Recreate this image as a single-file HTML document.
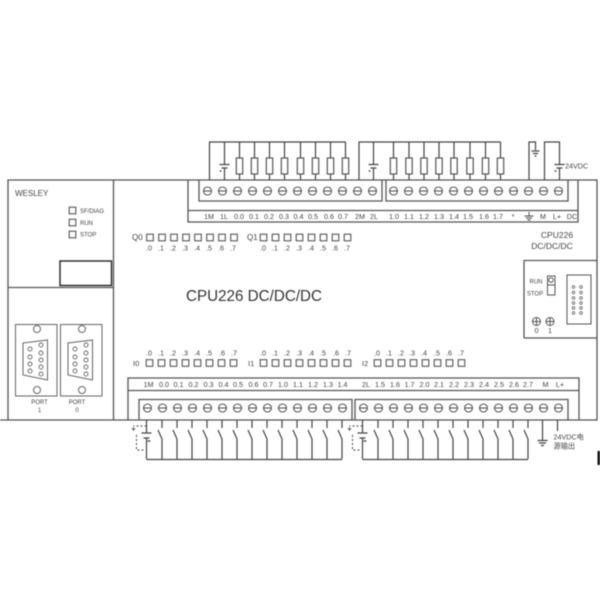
<!DOCTYPE html>
<html>
<head>
<meta charset="utf-8">
<style>
html,body{margin:0;padding:0;background:#fff;width:600px;height:600px;overflow:hidden}
svg{display:block;filter:blur(0.5px)}
text{font-family:"Liberation Sans","Noto Sans CJK SC",sans-serif;fill:#444;font-size:7.2px;text-anchor:middle}
.l{text-anchor:start}
.s{font-size:6px}
</style>
</head>
<body>
<svg width="600" height="600" viewBox="0 0 600 600" xmlns="http://www.w3.org/2000/svg">
<defs>
<g id="t"><circle r="4" fill="none" stroke="#555" stroke-width="1.100"/><path d="M-4 0H4" stroke="#555" stroke-width="1.100"/></g>
<rect id="led" x="-0.300" y="-0.300" width="6.600" height="6.600" fill="none" stroke="#555" stroke-width="1.100"/>
<g id="r"><path d="M0 142V158M0 174V180" stroke="#444" stroke-width="1.200"/><rect x="-3.200" y="158" width="6.400" height="16" fill="none" stroke="#555" stroke-width="1.200"/></g>
<g id="b"><path d="M0 142V164M0 168V180M-5 164.500H5M-3 168H3" stroke="#444" stroke-width="1.200" fill="none"/><path d="M-5 171h2" stroke="#444" stroke-width="1.200"/></g>
<g id="sw"><path d="M0 420V428M-4 430L0 439V459" stroke="#444" stroke-width="1.200" fill="none"/></g>
<g id="bb"><path d="M0 420V433M0 438V459M-5 433H5M-3 438H3M1 441H4" stroke="#444" stroke-width="1.200" fill="none"/><path d="M0 426H-13M-10 435V450H-1" stroke="#444" stroke-width="1" fill="none" stroke-dasharray="2 2"/><path d="M-15 429h4M-13 427v4" stroke="#444" stroke-width="0.8"/></g>
<g id="db"><path d="M23 343L47.500 340V380L23 375Z" fill="none" stroke="#666" stroke-width="1"/>
<g fill="none" stroke="#666" stroke-width="0.900"><circle cx="30" cy="349" r="2"/><circle cx="30" cy="357" r="2"/><circle cx="30" cy="364" r="2"/><circle cx="30" cy="371" r="2"/><circle cx="41" cy="345" r="2"/><circle cx="41" cy="353" r="2"/><circle cx="41" cy="360" r="2"/><circle cx="41" cy="367" r="2"/><circle cx="41" cy="374" r="2"/></g>
<circle cx="37" cy="329" r="3.500" fill="none" stroke="#666"/><circle cx="37" cy="390" r="3.500" fill="none" stroke="#666"/>
<rect x="15.500" y="324.500" width="41.500" height="71.500" fill="none" stroke="#666"/></g>
</defs>

<!-- frame -->
<g fill="none" stroke="#555" stroke-width="1.300">
<path d="M8 180H597V420H8Z"/>
<path d="M113.500 180V420M8 287.500H113.500"/>
<path d="M0 420H8M188 180V222H578V180"/>
<path d="M199 180V201H382V180M386 180V201H568V180"/>
<path d="M188 210.500H578"/>
<path d="M128 420V378H579V420M128 390.500H579"/>
<path d="M139 420V399.500H352V420M355 420V399.500H568V420"/>
<path d="M524 338V260.500H597M524 338H597"/>
</g>
<rect x="60" y="261" width="51.500" height="24.500" fill="none" stroke="#222" stroke-width="1.400"/>

<!-- left panel -->
<text class="l" x="15" y="196" style="font-size:8px">WESLEY</text>
<use href="#led" x="69.500" y="207.500"/><use href="#led" x="69.500" y="219.500"/><use href="#led" x="69.500" y="231.500"/>
<text class="l s" x="80" y="213">SF/DIAG</text>
<text class="l s" x="80" y="225">RUN</text>
<text class="l s" x="80" y="236.500">STOP</text>
<use href="#db"/><use href="#db" x="45"/>
<text class="s" x="39.500" y="404">PORT</text><text class="s" x="39.500" y="412">1</text>
<text class="s" x="77" y="404">PORT</text><text class="s" x="77" y="412">0</text>

<!-- top wiring -->
<g stroke="#444" stroke-width="1.200" fill="none">
<path d="M209.500 180V142H345.500"/>
<path d="M359 180V142H500.500"/>
<path d="M529 180V142H535.500V150M531.500 151H539.500M533 153.500H538M534.500 156H536.500"/>
<path d="M544.500 180V142H559.500V164"/>
</g>
<use href="#b" x="224.500"/>
<use href="#r" x="239.500"/><use href="#r" x="254.500"/><use href="#r" x="269.500"/><use href="#r" x="284.500"/><use href="#r" x="300.500"/><use href="#r" x="315.500"/><use href="#r" x="330.500"/><use href="#r" x="345.500"/>
<use href="#b" x="373.500"/>
<use href="#r" x="393.500"/><use href="#r" x="409"/><use href="#r" x="424"/><use href="#r" x="439"/><use href="#r" x="454"/><use href="#r" x="470"/><use href="#r" x="485.500"/><use href="#r" x="500.500"/>
<path d="M554.500 164.500H564.500M556.500 168H562.500M559.500 168V180M554.500 171h2" stroke="#444" stroke-width="1.200" fill="none"/>
<text class="l" x="565" y="168.500">24VDC</text>

<!-- top terminals -->
<g transform="translate(0,191)">
<use href="#t" x="207.500"/><use href="#t" x="222.500"/><use href="#t" x="237.500"/><use href="#t" x="252.500"/><use href="#t" x="267.500"/><use href="#t" x="282.500"/><use href="#t" x="297.500"/><use href="#t" x="312.500"/><use href="#t" x="327.500"/><use href="#t" x="342.500"/><use href="#t" x="357.500"/><use href="#t" x="372.500"/>
<use href="#t" x="393.500"/><use href="#t" x="408.500"/><use href="#t" x="423.500"/><use href="#t" x="438.500"/><use href="#t" x="453.500"/><use href="#t" x="468.500"/><use href="#t" x="483.500"/><use href="#t" x="498.500"/><use href="#t" x="513.500"/><use href="#t" x="528.500"/><use href="#t" x="543.500"/><use href="#t" x="558.500"/>
</g>

<!-- top labels -->
<g transform="translate(0,219)">
<text x="209">1M</text><text x="224">1L</text><text x="239">0.0</text><text x="254">0.1</text><text x="269">0.2</text><text x="284">0.3</text><text x="298.500">0.4</text><text x="313">0.5</text><text x="329">0.6</text><text x="343">0.7</text><text x="360">2M</text><text x="374">2L</text>
<text x="394">1.0</text><text x="409">1.1</text><text x="424">1.2</text><text x="439">1.3</text><text x="454">1.4</text><text x="468">1.5</text><text x="484">1.6</text><text x="498">1.7</text><text x="513">*</text><text x="543">M</text><text x="557">L+</text><text x="572">DC</text>
</g>
<path d="M529 212V216M524.500 216H533.500M526 218H532M527.500 220H530.500" stroke="#444" stroke-width="0.900" fill="none"/>

<text x="557" y="238" style="font-size:8.500px">CPU226</text>
<text x="552" y="249" style="font-size:8.500px">DC/DC/DC</text>

<!-- Q LEDs -->
<text class="l" x="132" y="240" style="font-size:8px">Q0</text>
<text class="l" x="247" y="240" style="font-size:8px">Q1</text>
<g transform="translate(0,234.500)">
<use href="#led" x="147"/><use href="#led" x="159"/><use href="#led" x="171"/><use href="#led" x="183"/><use href="#led" x="195"/><use href="#led" x="207"/><use href="#led" x="219"/><use href="#led" x="231"/>
<use href="#led" x="260.500"/><use href="#led" x="272.500"/><use href="#led" x="284.500"/><use href="#led" x="296.500"/><use href="#led" x="308.500"/><use href="#led" x="320.500"/><use href="#led" x="332.500"/><use href="#led" x="344.500"/>
</g>
<g transform="translate(0,250.500)">
<text x="149">.0</text><text x="161">.1</text><text x="173">.2</text><text x="185">.3</text><text x="197">.4</text><text x="209">.5</text><text x="221">.6</text><text x="233">.7</text>
<text x="263">.0</text><text x="275">.1</text><text x="287">.2</text><text x="299">.3</text><text x="311">.4</text><text x="323">.5</text><text x="335">.6</text><text x="347">.7</text>
</g>

<text class="l" x="186" y="301" textLength="136" lengthAdjust="spacingAndGlyphs" style="font-size:16px;fill:#333">CPU226 DC/DC/DC</text>

<!-- right module -->
<text class="s" x="536" y="283.500">RUN</text>
<text class="s" x="535" y="295.500">STOP</text>
<rect x="547.500" y="276" width="7.500" height="19" fill="none" stroke="#555"/>
<path d="M547.500 285H555" stroke="#555"/>
<circle cx="551" cy="280" r="2.300" fill="none" stroke="#555"/>
<rect x="567" y="275" width="24" height="49" fill="none" stroke="#555"/>
<g fill="none" stroke="#666" stroke-width="0.800">
<circle cx="573.500" cy="287" r="1.300"/><circle cx="581" cy="287" r="1.300"/>
<circle cx="573.500" cy="292.500" r="1.300"/><circle cx="581" cy="292.500" r="1.300"/>
<circle cx="573.500" cy="298" r="1.300"/><circle cx="581" cy="298" r="1.300"/>
<circle cx="573.500" cy="303" r="1.300"/><circle cx="581" cy="303" r="1.300"/>
<circle cx="573.500" cy="308" r="1.300"/><circle cx="581" cy="308" r="1.300"/>
<circle cx="573.500" cy="313" r="1.300"/><circle cx="581" cy="313" r="1.300"/>
</g>
<g fill="none" stroke="#555" stroke-width="1">
<circle cx="536.500" cy="321.500" r="4"/><path d="M533 321.500H540M536.500 318V325"/>
<circle cx="550" cy="321.500" r="4"/><path d="M546.500 321.500H553.500M550 318V325"/>
</g>
<text x="536.500" y="333">0</text><text x="550" y="333">1</text>

<!-- I LEDs -->
<text class="l" x="133" y="366" style="font-size:7.500px">I0</text>
<text class="l" x="248" y="366" style="font-size:7.500px">I1</text>
<text class="l" x="362" y="366" style="font-size:7.500px">I2</text>
<g transform="translate(0,360)">
<use href="#led" x="146.500"/><use href="#led" x="158.500"/><use href="#led" x="170.500"/><use href="#led" x="182.500"/><use href="#led" x="194.500"/><use href="#led" x="206.500"/><use href="#led" x="218.500"/><use href="#led" x="230.500"/>
<use href="#led" x="260.500"/><use href="#led" x="272.500"/><use href="#led" x="284.500"/><use href="#led" x="296.500"/><use href="#led" x="308.500"/><use href="#led" x="320.500"/><use href="#led" x="332.500"/><use href="#led" x="344.500"/>
<use href="#led" x="374.500"/><use href="#led" x="386.500"/><use href="#led" x="398.500"/><use href="#led" x="410.500"/><use href="#led" x="422.500"/><use href="#led" x="434.500"/><use href="#led" x="446.500"/><use href="#led" x="458.500"/>
</g>
<g transform="translate(0,355.500)">
<text x="149">.0</text><text x="161">.1</text><text x="173">.2</text><text x="185">.3</text><text x="197">.4</text><text x="209">.5</text><text x="222">.6</text><text x="234">.7</text>
<text x="263">.0</text><text x="275">.1</text><text x="287">.2</text><text x="299">.3</text><text x="311">.4</text><text x="323">.5</text><text x="336">.6</text><text x="348">.7</text>
<text x="377">.0</text><text x="389">.1</text><text x="401">.2</text><text x="412">.3</text><text x="424">.4</text><text x="437">.5</text><text x="449">.6</text><text x="461">.7</text>
</g>

<!-- bottom labels -->
<g transform="translate(0,387)">
<text x="148.500">1M</text><text x="164">0.0</text><text x="178.500">0.1</text><text x="193.500">0.2</text><text x="208.500">0.3</text><text x="223.500">0.4</text><text x="238">0.5</text><text x="253.500">0.6</text><text x="268">0.7</text><text x="283">1.0</text><text x="298">1.1</text><text x="313">1.2</text><text x="328">1.3</text><text x="342.500">1.4</text>
<text x="366">2L</text><text x="380">1.5</text><text x="395">1.6</text><text x="409.500">1.7</text><text x="424.500">2.0</text><text x="439">2.1</text><text x="454">2.2</text><text x="469">2.3</text><text x="484">2.4</text><text x="499">2.5</text><text x="514">2.6</text><text x="528">2.7</text><text x="545.500">M</text><text x="560">L+</text>
</g>

<!-- bottom terminals -->
<g transform="translate(0,408)">
<use href="#t" x="147.500"/><use href="#t" x="162.500"/><use href="#t" x="177.500"/><use href="#t" x="192.500"/><use href="#t" x="207.500"/><use href="#t" x="222.500"/><use href="#t" x="237.500"/><use href="#t" x="252.500"/><use href="#t" x="267.500"/><use href="#t" x="282.500"/><use href="#t" x="297.500"/><use href="#t" x="312.500"/><use href="#t" x="327.500"/><use href="#t" x="342.500"/>
<use href="#t" x="363.500"/><use href="#t" x="378.500"/><use href="#t" x="393.500"/><use href="#t" x="408.500"/><use href="#t" x="423.500"/><use href="#t" x="438.500"/><use href="#t" x="453.500"/><use href="#t" x="468.500"/><use href="#t" x="483.500"/><use href="#t" x="498.500"/><use href="#t" x="513.500"/><use href="#t" x="528.500"/><use href="#t" x="543.500"/><use href="#t" x="558.500"/>
</g>

<!-- bottom wiring -->
<path d="M146.500 459.500H342M362.500 459.500H528" stroke="#444" stroke-width="1.200" fill="none"/>
<use href="#bb" x="146.500"/>
<use href="#sw" x="162"/><use href="#sw" x="177"/><use href="#sw" x="192"/><use href="#sw" x="207"/><use href="#sw" x="222"/><use href="#sw" x="237"/><use href="#sw" x="252"/><use href="#sw" x="267"/><use href="#sw" x="282"/><use href="#sw" x="297"/><use href="#sw" x="312"/><use href="#sw" x="327"/><use href="#sw" x="342"/>
<use href="#bb" x="362.500"/>
<use href="#sw" x="378"/><use href="#sw" x="393"/><use href="#sw" x="408"/><use href="#sw" x="423"/><use href="#sw" x="438"/><use href="#sw" x="453"/><use href="#sw" x="468"/><use href="#sw" x="483"/><use href="#sw" x="498"/><use href="#sw" x="513"/><use href="#sw" x="528"/>
<path d="M542.500 420V440M537.500 440.500H547.500M539 443H546M541 445.500H544M557.500 420V431" stroke="#444" stroke-width="1.200" fill="none"/>
<text class="l" x="553.500" y="439.500">24VDC电</text>
<text class="l" x="553.500" y="448.500">源输出</text>

<rect x="597.500" y="451" width="2.500" height="14" fill="#111"/>
</svg>
</body>
</html>
